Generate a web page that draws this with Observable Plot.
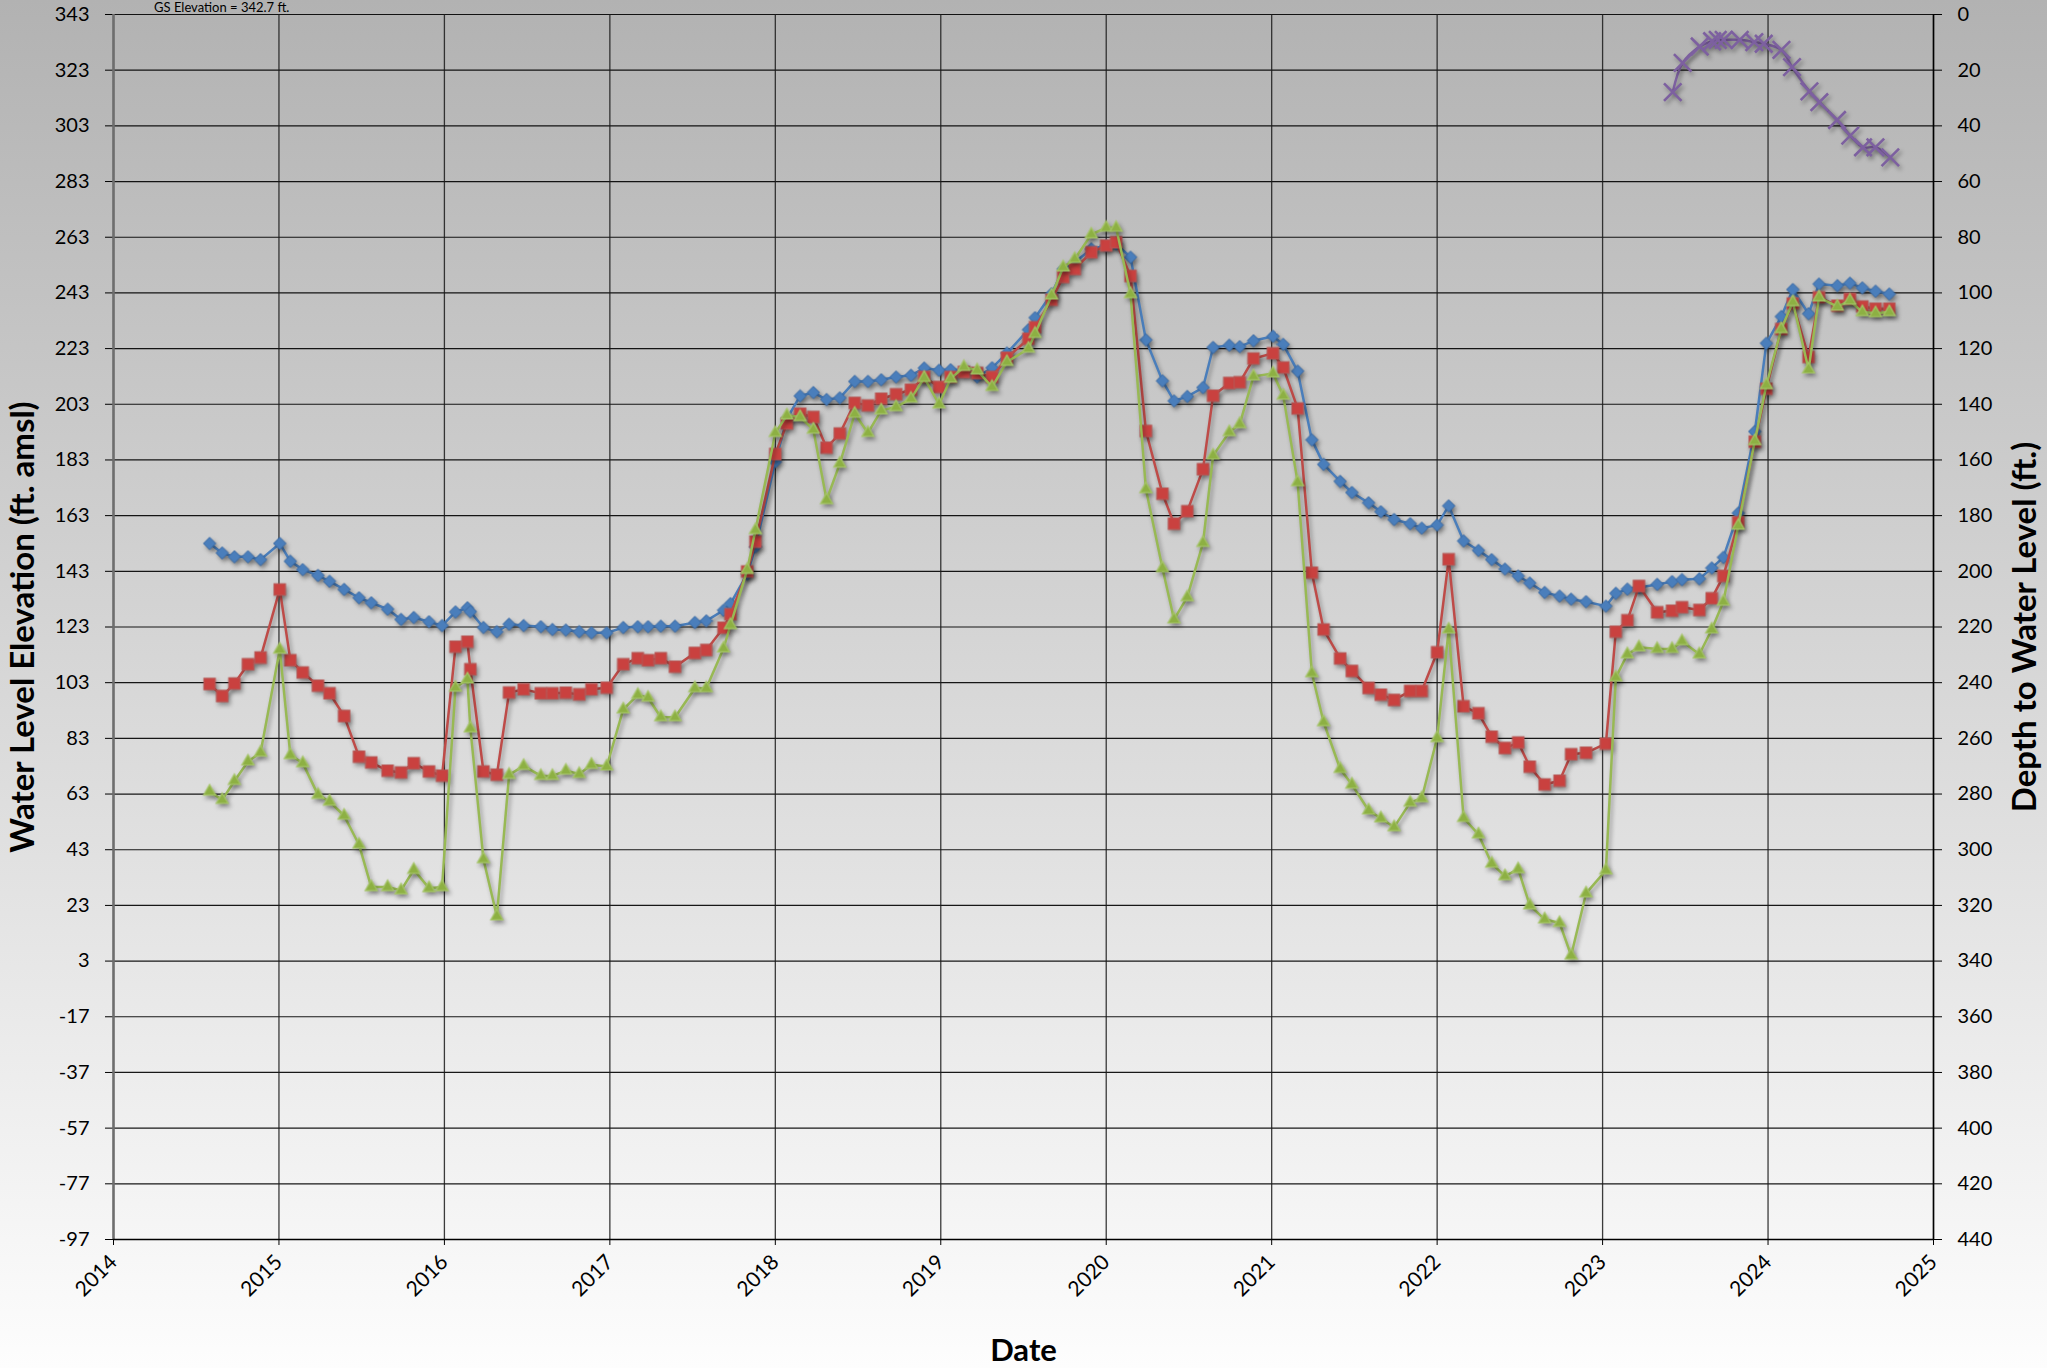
<!DOCTYPE html>
<html>
<head>
<meta charset="utf-8">
<script src="https://cdn.jsdelivr.net/npm/d3@7"></script>
<script src="https://cdn.jsdelivr.net/npm/@observablehq/plot@0.6"></script>
<style>
  html, body { margin: 0; padding: 0; width: 2047px; height: 1368px; overflow: hidden; }
  body { background: linear-gradient(to bottom, #b2b2b2 0%, #fdfdfd 100%); position: relative; font-family: Lato, sans-serif; }
  #title { position: absolute; left: 154px; top: 0px; font-size: 13px; line-height: 14px; color: #000; white-space: nowrap; z-index: 2; }
  #chart svg [aria-label="line"], #chart svg [aria-label="dot"] { filter: drop-shadow(2px 3px 2px rgba(0,0,0,0.35)); }
</style>
</head>
<body>
<div id="title">GS Elevation = 342.7 ft.</div>
<div id="chart"></div>
<script>
// ---- data ----
const years = [
2014.581,2014.657,2014.731,2014.813,2014.889,2015.005,2015.069,2015.144,2015.236,2015.306,
2015.394,2015.484,2015.558,2015.657,2015.738,2015.815,2015.907,2015.986,2016.067,2016.139,
2016.157,2016.236,2016.317,2016.391,2016.479,2016.583,2016.653,2016.734,2016.815,2016.889,
2016.981,2017.081,2017.169,2017.231,2017.308,2017.394,2017.514,2017.583,2017.687,2017.729,
2017.83,2017.88,2018.0,2018.07,2018.15,2018.23,2018.31,2018.39,2018.48,2018.56,
2018.64,2018.73,2018.82,2018.90,2018.99,2019.06,2019.14,2019.22,2019.31,2019.40,
2019.53,2019.57,2019.67,2019.74,2019.81,2019.91,2020.0,2020.06,2020.147,
2020.24,2020.34,2020.41,2020.49,2020.585,2020.646,2020.744,2020.807,2020.89,2021.008,
2021.07,2021.157,2021.243,2021.314,2021.414,2021.485,2021.586,2021.66,2021.74,2021.837,
2021.907,2022.0,2022.07,
2022.16,2022.25,2022.33,2022.41,2022.49,2022.56,2022.65,2022.74,2022.81,2022.90,
2023.02,2023.08,2023.15,2023.22,2023.33,2023.42,2023.48,2023.585,2023.66,2023.73,
2023.82,2023.92,2023.99,2024.08,2024.15,2024.245,2024.308,2024.419,2024.495,2024.57,
2024.65,2024.733];

const blueWell = [
153.0,149.6,148.2,148.2,147.2,153.0,146.6,143.6,141.5,139.4,
136.5,133.5,131.7,129.4,125.7,126.4,124.9,123.5,128.4,129.9,
128.5,122.8,121.3,124.0,123.5,123.1,122.1,121.9,121.3,120.9,
120.9,122.8,123.1,123.1,123.3,123.3,124.6,125.2,129.0,131.4,
142.0,151.8,182.3,197.8,206.0,207.2,204.7,205.3,211.2,211.2,
211.8,212.8,213.4,216.0,215.2,215.4,215.2,212.8,216.1,221.4,
229.8,234.1,242.7,251.6,254.0,258.8,260.0,260.6,255.8,
226.1,211.4,204.2,205.8,209.0,223.4,224.2,223.7,225.8,227.4,
224.5,214.9,190.2,181.4,175.3,171.3,167.6,164.4,161.6,160.1,
158.5,159.6,166.5,
153.9,150.5,147.2,143.8,141.3,138.8,135.4,134.1,133.0,132.1,
130.5,135.1,136.6,137.2,138.3,139.3,140.0,140.3,144.2,148.0,
163.9,193.2,224.9,234.5,244.2,235.5,246.2,245.6,246.5,244.8,
243.6,242.6];

const redWell = [
102.5,98.2,102.7,109.6,112.0,136.5,111.1,106.7,101.9,99.2,
91.0,76.4,74.3,71.4,70.7,74.1,71.1,69.6,115.9,117.7,
107.8,71.1,69.9,99.5,100.6,99.2,99.2,99.4,98.8,100.6,
101.2,109.6,111.8,111.1,111.8,108.7,113.7,114.7,122.7,127.6,
142.9,153.6,185.1,196.1,199.6,198.4,187.4,192.5,203.5,202.6,
205.0,206.6,208.2,212.8,209.2,212.8,214.6,214.2,212.8,219.7,
226.5,230.7,240.5,248.7,251.6,257.6,260.0,261.2,249.1,
193.4,170.9,160.1,164.6,179.7,206.1,210.6,210.9,219.4,221.3,
216.2,201.5,142.5,122.1,111.7,107.2,101.1,98.7,96.8,100.0,
100.0,113.9,147.3,
94.5,92.0,83.6,79.5,81.5,72.8,66.4,67.8,77.3,77.8,
81.1,121.3,125.4,137.7,128.3,128.8,130.1,129.1,133.3,141.3,
160.6,189.5,208.6,230.0,239.2,220.0,241.4,238.4,240.8,238.1,
237.3,237.3];

const greenWell = [
63.9,60.9,67.7,74.7,77.9,114.9,77.0,74.1,62.7,60.3,
55.2,44.8,29.6,29.6,28.4,35.8,29.2,29.6,101.2,104.2,
86.6,39.6,19.1,69.9,73.1,69.5,69.5,71.4,70.2,73.5,
72.9,93.4,98.6,97.6,90.6,90.6,101.0,101.0,115.3,123.7,
143.5,157.8,192.7,199.0,198.4,193.9,168.6,181.7,199.6,192.7,
200.8,202.0,205.0,212.5,203.0,212.2,216.4,215.2,209.2,218.2,
223.0,228.3,242.1,252.2,255.2,264.0,266.4,266.4,242.6,
172.5,144.1,125.7,133.7,153.2,184.6,193.0,195.9,213.0,214.1,
206.1,175.0,106.4,88.8,72.0,66.4,57.1,54.3,51.1,59.9,
61.5,83.1,122.1,
54.4,48.5,38.0,33.5,36.0,23.0,18.0,16.7,5.0,27.3,
35.6,104.9,113.2,115.7,115.1,115.1,117.9,113.2,122.1,132.1,
159.4,189.8,209.9,230.0,239.7,215.5,241.4,238.1,240.2,236.1,
235.7,236.1];

// purple series: depth to water (right axis)
const purpleYears = [2023.424,2023.484,2023.587,2023.662,2023.696,2023.732,2023.829,2023.917,2023.974,
  2024.081,2024.145,2024.25,2024.31,2024.417,2024.497,2024.574,2024.649,2024.739];
const purpleDepth = [27.9,17.4,11.5,9.6,9.1,9.1,9.1,9.9,10.5,12.7,18.9,27.6,31.5,37.9,43.5,47.7,47.7,51.3];

const gsElevation = 343;               // left 343 ft amsl == right 0 ft depth
const leftTicks = d3.range(343, -98, -20);   // 343 ... -97
const depthTicks = d3.range(0, 441, 20);     // 0 ... 440
const yearTicks = d3.range(2014, 2026);      // 2014 ... 2025

const axisTitleLeft = ["Water Level Elevation (ft. amsl)"];
const axisTitleRight = ["Depth to Water Level (ft.)"];
const axisTitleX = ["Date"];

// ---- build tables ----
const rows = years.map((x, i) => ({x, blue: blueWell[i], red: redWell[i], green: greenWell[i]}));
const prow = purpleYears.map((x, i) => ({x, elev: gsElevation - purpleDepth[i]}));

const C = {blue: "#4A7EBB", red: "#BE4B48", green: "#98B954", purple: "#7D60A0"};

const chart = Plot.plot({
  width: 2047,
  height: 1368,
  marginLeft: 113,
  marginRight: 114,
  marginTop: 14,
  marginBottom: 129,
  style: {background: "transparent", fontFamily: "Lato, sans-serif", fontSize: "20px", color: "#000", overflow: "visible"},
  x: {domain: [2014, 2025]},
  y: {domain: [-97, 343]},
  marks: [
    Plot.gridY(leftTicks, {stroke: "#000", strokeOpacity: 0.9, strokeWidth: 1.2}),
    Plot.gridX(yearTicks, {stroke: "#1a1a1a", strokeOpacity: 0.85, strokeWidth: 1.3}),
    Plot.axisY(leftTicks, {anchor: "left", tickSize: 8, tickPadding: 16, tickFormat: d => String(d), label: null}),
    Plot.axisY(depthTicks.map(d => gsElevation - d), {anchor: "right", tickSize: 8, tickPadding: 16, tickFormat: d => String(gsElevation - d), label: null}),
    Plot.axisX(yearTicks, {anchor: "bottom", tickSize: 6, tickPadding: 13, tickRotate: -45, fontSize: 21, tickFormat: d => String(d), label: null}),
    Plot.ruleX([2014], {stroke: "#6e6e6e", strokeWidth: 2.5}),
    Plot.ruleX([2025], {stroke: "#000", strokeWidth: 1.5}),
    Plot.ruleY([-97], {stroke: "#000", strokeWidth: 1.5}),

    Plot.line(rows, {x: "x", y: "blue", stroke: C.blue, strokeWidth: 2.5}),
    Plot.dot(rows, {x: "x", y: "blue", symbol: "diamond2", r: 5.6, fill: C.blue, stroke: "#3868a3", strokeWidth: 1}),
    Plot.line(rows, {x: "x", y: "red", stroke: C.red, strokeWidth: 2.5}),
    Plot.dot(rows, {x: "x", y: "red", symbol: "square2", r: 7.2, fill: "#C9413F", stroke: "#B85452", strokeWidth: 1.2}),
    Plot.line(rows, {x: "x", y: "green", stroke: C.green, strokeWidth: 2.5}),
    Plot.dot(rows, {x: "x", y: "green", symbol: "triangle2", r: 5.8, fill: "#8DB043", stroke: "#A6C56A", strokeWidth: 1.2}),
    Plot.line(prow, {x: "x", y: "elev", stroke: C.purple, strokeWidth: 2.5, curve: "catmull-rom"}),
    Plot.dot(prow, {x: "x", y: "elev", symbol: "times", r: 8, stroke: C.purple, strokeWidth: 2.6}),

    Plot.text(axisTitleLeft, {frameAnchor: "left", dx: -90, rotate: -90, fontSize: 33, fontWeight: "bold", textAnchor: "middle"}),
    Plot.text(axisTitleRight, {frameAnchor: "right", dx: 92, rotate: -90, fontSize: 33, fontWeight: "bold", textAnchor: "middle"}),
    Plot.text(axisTitleX, {frameAnchor: "bottom", dy: 121, fontSize: 31, fontWeight: "bold", textAnchor: "middle"})
  ]
});
document.getElementById("chart").append(chart);
</script>
</body>
</html>
